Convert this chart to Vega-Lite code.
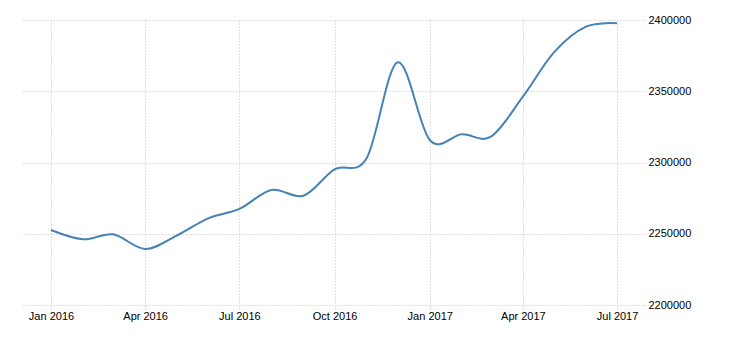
{
  "$schema": "https://vega.github.io/schema/vega-lite/v6.json",
  "autosize": "none",
  "width": 623,
  "height": 285,
  "padding": {"left": 22, "top": 20, "right": 85, "bottom": 35},
  "background": "white",
  "config": {"view": {"stroke": null}, "font": "Liberation Sans"},
  "data": {"values": [
    {"date": "2016-01-01", "value": 2252600},
    {"date": "2016-02-01", "value": 2246100},
    {"date": "2016-03-01", "value": 2249600},
    {"date": "2016-04-01", "value": 2239300},
    {"date": "2016-05-01", "value": 2248500},
    {"date": "2016-06-01", "value": 2260800},
    {"date": "2016-07-01", "value": 2267400},
    {"date": "2016-08-01", "value": 2280700},
    {"date": "2016-09-01", "value": 2276700},
    {"date": "2016-10-01", "value": 2295200},
    {"date": "2016-11-01", "value": 2303000},
    {"date": "2016-12-01", "value": 2370300},
    {"date": "2017-01-01", "value": 2315800},
    {"date": "2017-02-01", "value": 2319800},
    {"date": "2017-03-01", "value": 2318100},
    {"date": "2017-04-01", "value": 2346200},
    {"date": "2017-05-01", "value": 2377300},
    {"date": "2017-06-01", "value": 2395300},
    {"date": "2017-07-01", "value": 2397700}
  ]},
  "mark": {"type": "line", "interpolate": "cardinal", "color": "#4682b4", "strokeWidth": 2},
  "encoding": {
    "x": {
      "field": "date", "type": "temporal",
      "scale": {"type": "utc", "domain": [
        {"year": 2015, "month": 12, "date": 4, "utc": true},
        {"year": 2017, "month": 7, "date": 28, "utc": true}
      ]},
      "axis": {
        "title": null,
        "values": [
          {"year": 2016, "month": 1, "date": 1, "utc": true},
          {"year": 2016, "month": 4, "date": 1, "utc": true},
          {"year": 2016, "month": 7, "date": 1, "utc": true},
          {"year": 2016, "month": 10, "date": 1, "utc": true},
          {"year": 2017, "month": 1, "date": 1, "utc": true},
          {"year": 2017, "month": 4, "date": 1, "utc": true},
          {"year": 2017, "month": 7, "date": 1, "utc": true}
        ],
        "labelExpr": "utcFormat(datum.value, '%b %Y')",
        "grid": true,
        "gridColor": "#c0c0c0",
        "gridDash": [1, 2],
        "domain": false,
        "ticks": true,
        "tickSize": 5,
        "tickColor": "#c0c0c0",
        "tickDash": [1, 2],
        "labelPadding": 0,
        "labelFont": "Liberation Sans",
        "labelFontSize": 11,
        "labelColor": "#000000",
        "labelFlush": false
      }
    },
    "y": {
      "field": "value", "type": "quantitative",
      "scale": {"domain": [2200000, 2400000], "nice": false, "zero": false},
      "axis": {
        "title": null,
        "orient": "right",
        "values": [2200000, 2250000, 2300000, 2350000, 2400000],
        "format": "d",
        "grid": true,
        "gridColor": "#c0c0c0",
        "gridDash": [1, 2],
        "domain": false,
        "ticks": false,
        "labelPadding": 3,
        "labelAlign": "left",
        "labelBaseline": "middle",
        "labelFont": "Liberation Sans",
        "labelFontSize": 11,
        "labelColor": "#000000"
      }
    }
  }
}
